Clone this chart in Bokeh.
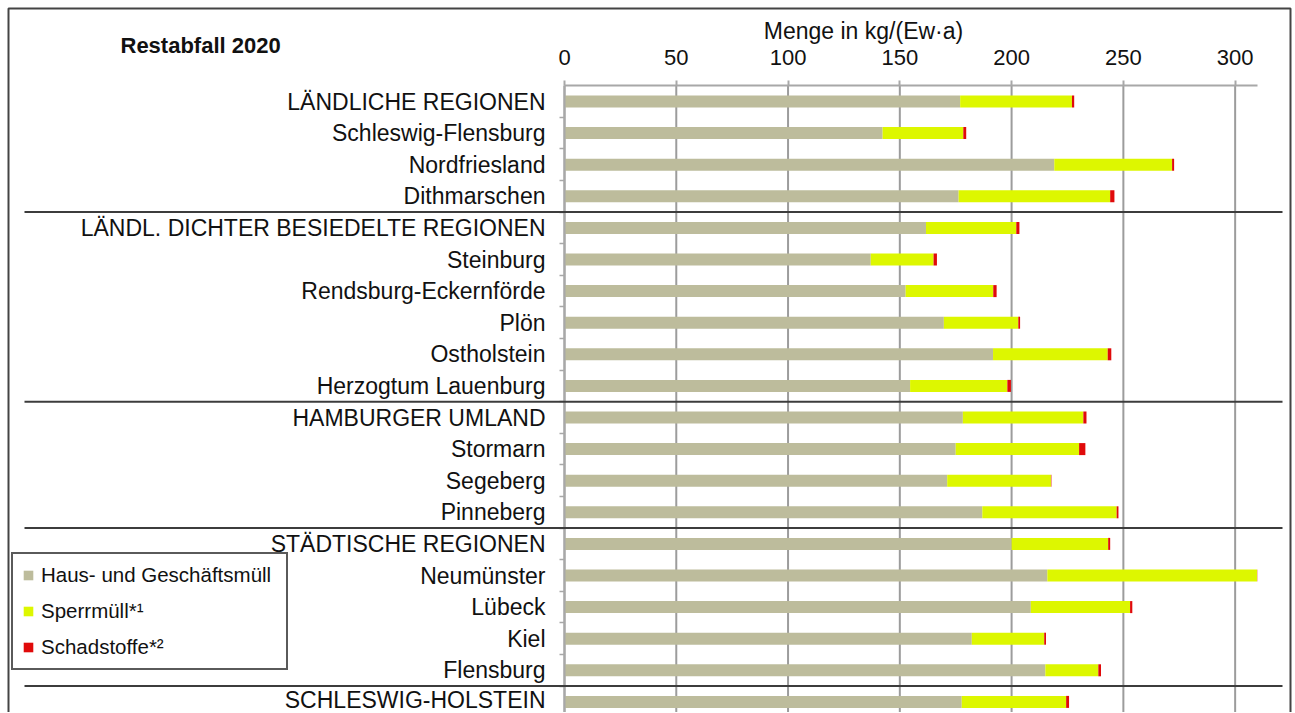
from bokeh.plotting import figure
from bokeh.models import (ColumnDataSource, Range1d, FixedTicker, BoxAnnotation, Label,
                          LinearAxis)
from bokeh.embed import file_html
from bokeh.resources import INLINE

categories = ["LÄNDLICHE REGIONEN", "Schleswig-Flensburg", "Nordfriesland", "Dithmarschen",
              "LÄNDL. DICHTER BESIEDELTE REGIONEN", "Steinburg", "Rendsburg-Eckernförde", "Plön",
              "Ostholstein", "Herzogtum Lauenburg",
              "HAMBURGER UMLAND", "Stormarn", "Segeberg", "Pinneberg",
              "STÄDTISCHE REGIONEN", "Neumünster", "Lübeck", "Kiel", "Flensburg",
              "SCHLESWIG-HOLSTEIN"]
group_sizes = [4, 6, 4, 5, 1]
haus = [177.0, 142.3, 219.1, 176.3, 161.7, 137.0, 152.6, 169.7, 191.7, 154.6,
        178.2, 175.0, 171.2, 186.9, 200.0, 216.0, 208.6, 182.2, 215.1, 177.7]
sperr = [50.0, 36.1, 52.7, 67.8, 40.4, 28.1, 39.2, 33.3, 51.3, 43.5,
         53.9, 55.2, 46.4, 60.1, 43.2, 93.8, 44.4, 32.4, 23.7, 46.7]
schad = [1.0, 1.3, 0.9, 1.9, 1.4, 1.5, 1.5, 0.8, 1.6, 1.6,
         1.4, 2.8, 0.2, 0.8, 0.9, 0.1, 1.0, 0.8, 1.2, 1.3]
series_names = ["Haus- und Geschäftsmüll", "Sperrmüll*¹", "Schadstoffe*²"]
colors = ["#BDBC9C", "#DDF700", "#E00A0A"]
x_ticks = [0, 50, 100, 150, 200, 250, 300]
x_max = 310
title_text = "Restabfall 2020"
x_title = "Menge in kg/(Ew·a)"

FONT = "Liberation Sans"
W, H = 1292, 712
n = len(categories)
ypos = list(range(n))

# layout constants (pixels)
X0_PX = 564          # where value 0 sits
PPU = 693 / x_max    # pixels per unit
ROW0_PX = 101        # centre of first row
ROW_PX = 31.6        # row pitch

x_start = -X0_PX / PPU
x_end = (W - X0_PX) / PPU
y_top = -ROW0_PX / ROW_PX
y_bot = (H - ROW0_PX) / ROW_PX

source = ColumnDataSource(dict(y=ypos, haus=haus, sperr=sperr, schad=schad))

p = figure(width=W, height=H, x_range=Range1d(x_start, x_end), y_range=Range1d(y_bot, y_top),
           output_backend="svg", toolbar_location=None,
           x_axis_location=None, y_axis_location=None,
           min_border=0, min_border_left=0, min_border_right=0,
           min_border_top=0, min_border_bottom=0)
p.outline_line_color = None
p.background_fill_color = "white"
p.border_fill_color = "white"
p.xgrid.visible = False
p.ygrid.visible = False

# vertical grid lines from the axis downwards
p.segment(x0=x_ticks, x1=x_ticks, y0=[-0.5] * len(x_ticks), y1=[y_bot + 1] * len(x_ticks),
          line_color="#9c9c9c", line_width=2, level="underlay")

xa = LinearAxis(fixed_location=-0.5, bounds=(0, x_max), ticker=FixedTicker(ticks=x_ticks))
xa.axis_line_color = "#a8a8a8"
xa.axis_line_width = 2
xa.major_tick_line_color = "#a8a8a8"
xa.major_tick_line_width = 2
xa.major_tick_out = 5
xa.major_tick_in = 0
xa.minor_tick_line_color = None
xa.major_label_text_font = FONT
xa.major_label_text_font_size = "22px"
xa.major_label_text_color = "#111111"
xa.major_label_standoff = 16
p.add_layout(xa, "above")

ya = LinearAxis(fixed_location=0, bounds=(-0.5, n - 0.3),
                ticker=FixedTicker(ticks=ypos, minor_ticks=[i + 0.5 for i in range(n)]))
ya.major_label_overrides = {i: c for i, c in enumerate(categories)}
ya.axis_line_color = "#a8a8a8"
ya.axis_line_width = 2
ya.major_tick_line_color = None
ya.major_tick_out = 0
ya.major_tick_in = 0
ya.minor_tick_line_color = "#a8a8a8"
ya.minor_tick_line_width = 1.5
ya.minor_tick_out = 5
ya.minor_tick_in = 0
ya.major_label_text_font = FONT
ya.major_label_text_font_size = "23px"
ya.major_label_text_color = "#111111"
ya.major_label_standoff = 14
p.add_layout(ya, "left")

p.hbar_stack(["haus", "sperr", "schad"], y="y", height=0.38, color=colors,
             line_color=None, source=source, legend_label=series_names)

# group separators
b = 0
for g in group_sizes[:-1]:
    b += g
    yb = b - 0.5
    p.add_layout(BoxAnnotation(left=24, right=1282, left_units="canvas", right_units="canvas",
                               top=yb - 0.032, bottom=yb + 0.032, fill_color="#3c3c3c",
                               fill_alpha=1, line_color=None, level="overlay"))

# outer frame
p.add_layout(BoxAnnotation(left=8, right=1290, top=8, bottom=H + 20,
                           left_units="canvas", right_units="canvas",
                           top_units="canvas", bottom_units="canvas",
                           fill_alpha=0, line_color="#444444", line_alpha=1,
                           line_width=2, level="overlay"))

p.add_layout(Label(x=120, y=45, x_units="canvas", y_units="canvas", text=title_text,
                   text_font=FONT, text_font_size="22px", text_font_style="bold",
                   text_baseline="middle", text_align="left", text_color="#111111"))
p.add_layout(Label(x=863, y=30, x_units="canvas", y_units="canvas", text=x_title,
                   text_font=FONT, text_font_size="23px",
                   text_baseline="middle", text_align="center", text_color="#111111"))

lg = p.legend[0]
lg.location = (11, 42)
lg.orientation = "vertical"
lg.border_line_color = "#5a5a5a"
lg.border_line_width = 2
lg.border_line_alpha = 1
lg.background_fill_color = "white"
lg.background_fill_alpha = 1
lg.label_text_font = FONT
lg.label_text_font_size = "20.5px"
lg.label_text_color = "#111111"
lg.glyph_width = 12
lg.glyph_height = 12
lg.label_height = 20
lg.label_width = 236
lg.label_standoff = 7
lg.spacing = 12
lg.padding = 9
lg.margin = 0

open("out.html", "w").write(file_html(p, INLINE))
